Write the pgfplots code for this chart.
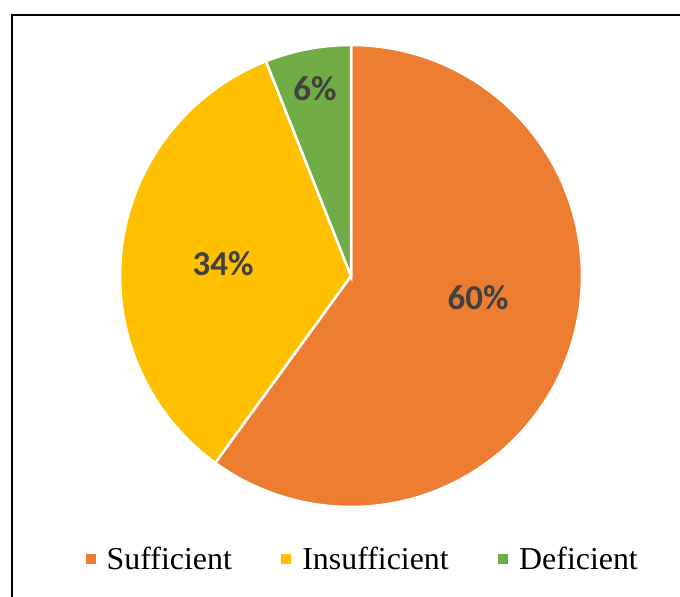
\documentclass[border=0pt]{standalone}
\usepackage{pgfplots}
\pgfplotsset{compat=1.18}
\usepackage{fontspec}
\setmainfont{Liberation Serif}
\newfontfamily\calibri{Carlito}
\definecolor{cSuff}{HTML}{ED7D31}
\definecolor{cIns}{HTML}{FFC000}
\definecolor{cDef}{HTML}{70AD47}
\definecolor{lbl}{HTML}{404040}
% data (percent)
\def\vSuff{60}
\def\vIns{34}
\def\vDef{6}
\begin{document}
\begin{tikzpicture}[x=1bp,y=1bp]
\useasboundingbox (0,0) rectangle (680,597);
\draw[line width=2bp] (12,-2) -- (12,582) -- (682,582);
\begin{axis}[
  at={(351bp,321bp)}, anchor=center,
  width=462bp, height=462bp, scale only axis,
  hide axis, clip=false,
  xmin=-1, xmax=1, ymin=-1, ymax=1,
  legend columns=3,
  legend image code/.code={\fill[#1] (0bp,-6.5bp) rectangle (12.5bp,6.5bp); \path (21bp,0bp);},
  legend style={at={(0.5206,-0.1126)}, anchor=center, draw=none, fill=none,
    inner sep=0bp, outer sep=0bp,
    nodes={inner sep=0bp, outer sep=0bp},
    font=\fontsize{32}{36}\selectfont,
    /tikz/every even column/.append style={column sep=47bp}},
]
\pgfmathsetmacro{\aA}{90}
\pgfmathsetmacro{\aB}{90-3.6*\vSuff}
\pgfmathsetmacro{\aC}{\aB-3.6*\vIns}
\pgfmathsetmacro{\aD}{\aC-3.6*\vDef}
\addplot[fill=cSuff, draw=white, line width=2.5bp, domain=\aA:\aB, samples=120, variable=\t]
  ({cos(\t)},{sin(\t)}) -- (0,0) -- cycle;
\addlegendentry{Sufficient}
\addplot[fill=cIns, draw=white, line width=2.5bp, domain=\aB:\aC, samples=80, variable=\t]
  ({cos(\t)},{sin(\t)}) -- (0,0) -- cycle;
\addlegendentry{Insufficient}
\addplot[fill=cDef, draw=white, line width=2.5bp, domain=\aC:\aD, samples=20, variable=\t]
  ({cos(\t)},{sin(\t)}) -- (0,0) -- cycle;
\addlegendentry{Deficient}
\node[font=\calibri\bfseries\fontsize{35}{40}\selectfont, text=lbl] at (0.55,-0.095) {\vSuff\%};
\node[font=\calibri\bfseries\fontsize{35}{40}\selectfont, text=lbl] at (-0.554,0.052) {\vIns\%};
\node[font=\calibri\bfseries\fontsize{35}{40}\selectfont, text=lbl] at (-0.156,0.81) {\vDef\%};
\end{axis}
\end{tikzpicture}
\end{document}
